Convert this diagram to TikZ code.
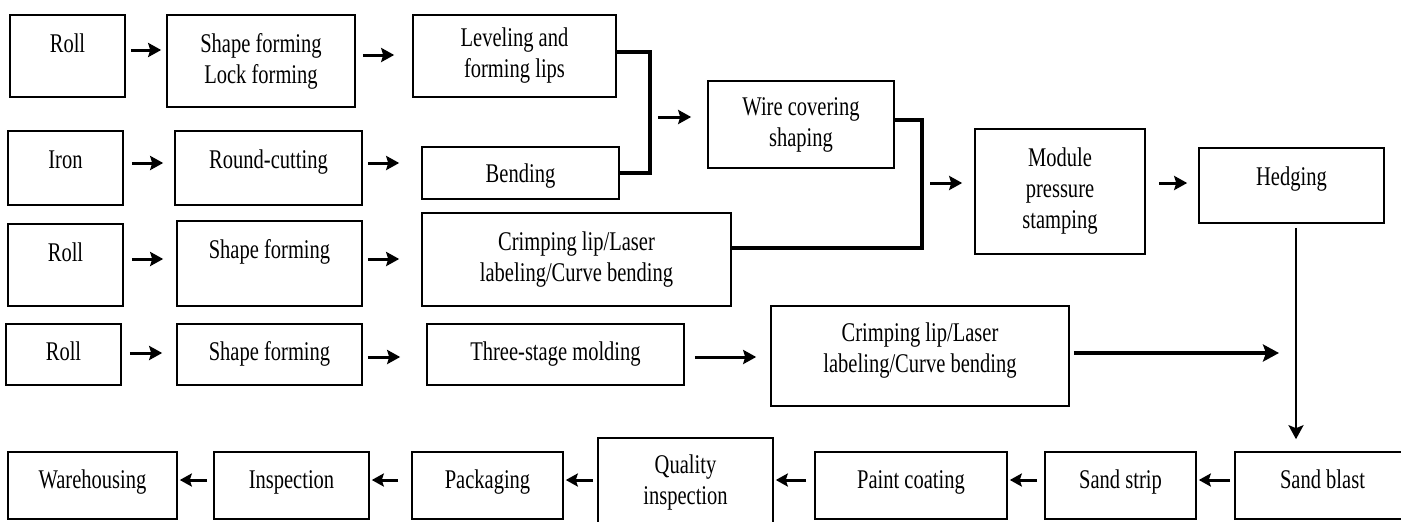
\documentclass[tikz,border=0pt]{standalone}
\usepackage{fontspec}
\setmainfont{Liberation Serif}[FakeStretch=0.76]
\usetikzlibrary{arrows.meta}
\newcommand{\liftx}[2]{\raisebox{#1pt}[\height][\depth]{\strut#2}}
\begin{document}
\begin{tikzpicture}[x=1pt,y=-1pt,
  box/.style={draw,line width=1.6pt,inner sep=2pt,align=center,
    font=\fontsize{27}{31}\selectfont},
  arr/.style={line width=3pt,-{Stealth[length=13pt,width=14pt,inset=2pt]}},
  arrs/.style={line width=3pt,-{Stealth[length=12pt,width=13pt,inset=2pt]}},
  arrl/.style={line width=3.2pt,-{Stealth[length=16pt,width=17pt,inset=3pt]}},
  bracket/.style={line width=3.5pt},
  vline/.style={line width=2.6pt,-{Stealth[length=14pt,width=15pt,inset=3pt]}}]
\useasboundingbox (0,0) rectangle (1401,522);
% row 1
\node[box,minimum width=115pt,minimum height=82pt] (r1a) at (67.5,56) {\liftx{10}{Roll}};
\node[box,minimum width=188pt,minimum height=92pt] (r1b) at (261,61) {Shape forming\\Lock forming};
\node[box,minimum width=203pt,minimum height=82pt] (r1c) at (514.5,56) {Leveling and\\forming lips};
% row 2
\node[box,minimum width=115pt,minimum height=74pt] (r2a) at (65.5,168) {\liftx{6}{Iron}};
\node[box,minimum width=187pt,minimum height=74pt] (r2b) at (268.5,168) {\liftx{6}{Round-cutting}};
\node[box,minimum width=197pt,minimum height=52pt] (r2c) at (520.5,173) {\liftx{-3}{Bending}};
% row 3
\node[box,minimum width=115pt,minimum height=82pt] (r3a) at (65.5,265) {\liftx{10}{Roll}};
\node[box,minimum width=185pt,minimum height=85pt] (r3b) at (269.5,263.5) {\liftx{11}{Shape forming}};
\node[box,minimum width=309pt,minimum height=93pt] (r3c) at (576.5,259.5) {Crimping lip/Laser\\labeling/Curve bending};
% middle column
\node[box,minimum width=186pt,minimum height=87pt] (wire) at (801,124.5) {Wire covering\\shaping};
\node[box,minimum width=170pt,minimum height=125pt] (mod) at (1060,191.5) {Module\\pressure\\stamping};
\node[box,minimum width=185pt,minimum height=75pt] (hedge) at (1291.5,185.5) {\liftx{6}{Hedging}};
% row 4
\node[box,minimum width=115pt,minimum height=61pt] (r4a) at (63.5,354.5) {\liftx{0}{Roll}};
\node[box,minimum width=185pt,minimum height=61pt] (r4b) at (269.5,354.5) {\liftx{0}{Shape forming}};
\node[box,minimum width=257pt,minimum height=61pt] (r4c) at (555.5,354.5) {\liftx{0}{Three-stage molding}};
\node[box,minimum width=298pt,minimum height=100pt] (r4d) at (920,356) {\liftx{5}{\begin{tabular}{@{}c@{}}Crimping lip/Laser\\labeling/Curve bending\end{tabular}}};
\coordinate (r4end) at (1279,353);
% row 5
\node[box,minimum width=169pt,minimum height=67pt] (wh) at (92.5,485.5) {\liftx{3}{Warehousing}};
\node[box,minimum width=155pt,minimum height=67pt] (insp) at (291.5,485.5) {\liftx{3}{Inspection}};
\node[box,minimum width=151pt,minimum height=67pt] (pack) at (487.5,485.5) {\liftx{3}{Packaging}};
\node[box,minimum width=175pt,minimum height=90pt] (qual) at (685.5,483) {Quality\\inspection};
\node[box,minimum width=192pt,minimum height=67pt] (paint) at (911,485.5) {\liftx{3}{Paint coating}};
\node[box,minimum width=151pt,minimum height=67pt] (strip) at (1120.5,485.5) {\liftx{3}{Sand strip}};
\node[box,minimum width=175pt,minimum height=67pt] (blast) at (1322.5,485.5) {\liftx{3}{Sand blast}};
% arrows row 1-3
\draw[arr] ([xshift=5pt]r1a.east |- 0,50) -- ([xshift=-5pt]r1b.west |- 0,50);
\draw[arr] ([xshift=7pt]r1b.east |- 0,55) -- ([xshift=-18pt]r1c.west |- 0,55);
\draw[arr] ([xshift=8pt]r2a.east |- 0,163) -- ([xshift=-11pt]r2b.west |- 0,163);
\draw[arr] ([xshift=5pt]r2b.east |- 0,163) -- ([xshift=-22pt]r2c.west |- 0,163);
\draw[arr] ([xshift=8pt]r3a.east |- 0,259) -- ([xshift=-13pt]r3b.west |- 0,259);
\draw[arr] ([xshift=5pt]r3b.east |- 0,259) -- ([xshift=-22pt]r3c.west |- 0,259);
% brackets
\draw[bracket] (r1c.east |- 0,52) -| (650,173) -- (r2c.east |- 0,173);
\draw[arr] ([xshift=-49pt]wire.west |- 0,117) -- ([xshift=-16pt]wire.west |- 0,117);
\draw[bracket] (r3c.east |- 0,248) -| (922,120) -- (wire.east |- 0,120);
\draw[arr] ([xshift=-44pt]mod.west |- 0,183) -- ([xshift=-12pt]mod.west |- 0,183);
\draw[arr] ([xshift=13pt]mod.east |- 0,183) -- ([xshift=-11pt]hedge.west |- 0,183);
\draw[vline] ([yshift=-4pt]hedge.south -| 1296,0) -- ([yshift=12pt]blast.north -| 1296,0);
% row 4
\draw[arr] ([xshift=8pt]r4a.east |- 0,353) -- ([xshift=-14pt]r4b.west |- 0,353);
\draw[arr] ([xshift=5pt]r4b.east |- 0,357) -- ([xshift=-26pt]r4c.west |- 0,357);
\draw[arr] ([xshift=10pt]r4c.east |- 0,357) -- ([xshift=-14pt]r4d.west |- 0,357);
\draw[arrl] ([xshift=4pt]r4d.east |- 0,353) -- (r4end);
% row 5
\draw[arrs] ([xshift=-4pt]blast.west |- 0,480) -- ([xshift=2pt]strip.east |- 0,480);
\draw[arrs] ([xshift=-7pt]strip.west |- 0,480) -- ([xshift=2pt]paint.east |- 0,480);
\draw[arrs] ([xshift=-8pt]paint.west |- 0,480) -- ([xshift=2pt]qual.east |- 0,480);
\draw[arrs] ([xshift=-4pt]qual.west |- 0,480) -- ([xshift=2pt]pack.east |- 0,480);
\draw[arrs] ([xshift=-13pt]pack.west |- 0,480) -- ([xshift=2pt]insp.east |- 0,480);
\draw[arrs] ([xshift=-6pt]insp.west |- 0,480) -- ([xshift=2pt]wh.east |- 0,480);
\end{tikzpicture}
\end{document}
